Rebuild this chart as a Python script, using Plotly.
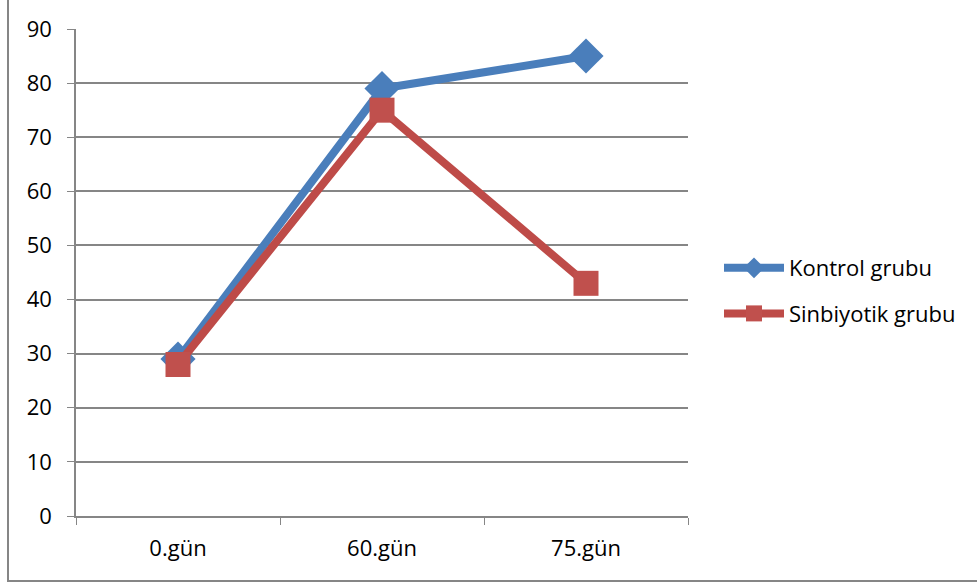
import plotly.graph_objects as go

categories = ["0.gün", "60.gün", "75.gün"]
kontrol = [29, 79, 85]
sinbiyotik = [28, 75, 43]
y_ticks = [0, 10, 20, 30, 40, 50, 60, 70, 80, 90]

W, H = 977, 585
L, R, T, B = 76, 289, 29, 69
pw = W - L - R
ph = H - T - B

def px_to_paper_x(px):
    return (px - L) / pw

def px_to_paper_y(py):
    return (H - B - py) / ph

font = dict(family="Open Sans, Noto Sans, sans-serif", size=23, color="#000000")

fig = go.Figure()
fig.add_trace(go.Scatter(
    x=categories, y=kontrol, name="Kontrol grubu", mode="lines+markers",
    legendgroup="a",
    line=dict(color="#4A7EBB", width=8),
    marker=dict(symbol="diamond", size=27, color="#4A7EBB"),
))
fig.add_trace(go.Scatter(
    x=categories, y=sinbiyotik, name="Sinbiyotik grubu", mode="lines+markers",
    legendgroup="b",
    line=dict(color="#BE4B48", width=8),
    marker=dict(symbol="square", size=25, color="#C0504D"),
))

fig.update_layout(
    width=W, height=H,
    margin=dict(l=L, r=R, t=T, b=B),
    paper_bgcolor="white", plot_bgcolor="white",
    font=font,
    showlegend=True,
    legend=dict(x=px_to_paper_x(719), y=px_to_paper_y(291), yanchor="middle", xanchor="left",
                font=dict(size=22), tracegroupgap=14, itemwidth=60,
                bgcolor="rgba(0,0,0,0)"),
    xaxis=dict(type="category", range=[-0.5, 2.5], showgrid=False,
               showline=True, linecolor="#868686", linewidth=1.5,
               ticks="outside", tickson="boundaries", ticklen=7, tickcolor="#868686",
               ticklabelstandoff=12,
               tickfont=dict(size=22), zeroline=False),
    yaxis=dict(range=[0, 90], tickvals=y_ticks, showgrid=True, gridcolor="#868686", gridwidth=1.5,
               showline=True, linecolor="#868686", linewidth=1.5,
               ticks="outside", ticklen=7, tickcolor="#868686",
               ticklabelstandoff=11,
               tickfont=dict(size=22), zeroline=False),
    shapes=[dict(type="rect", xref="paper", yref="paper",
                 x0=px_to_paper_x(8), x1=px_to_paper_x(990),
                 y0=px_to_paper_y(581), y1=px_to_paper_y(-10),
                 line=dict(color="#868686", width=2), fillcolor="rgba(0,0,0,0)", layer="below")],
)

fig.write_html("out.html", config={"displayModeBar": False},
               post_script="document.body.style.margin='0';document.body.style.overflow='hidden';")
